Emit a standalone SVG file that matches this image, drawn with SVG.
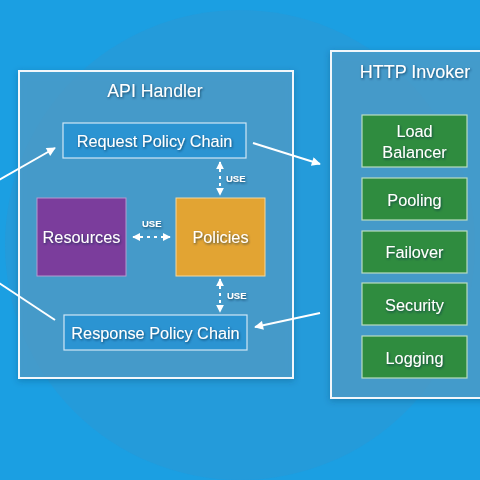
<svg xmlns="http://www.w3.org/2000/svg" width="480" height="480" viewBox="0 0 480 480">
<defs>
<filter id="ts" x="-20%" y="-40%" width="140%" height="180%">
<feDropShadow dx="0.8" dy="1.2" stdDeviation="0.8" flood-color="#0b2a44" flood-opacity="0.7"/>
</filter>
<filter id="bs" x="-10%" y="-10%" width="120%" height="120%">
<feDropShadow dx="0" dy="2" stdDeviation="3" flood-color="#0b3a5e" flood-opacity="0.35"/>
</filter>
<marker id="ah" viewBox="0 0 10 10" refX="9" refY="5" markerWidth="5" markerHeight="4.5" orient="auto-start-reverse" markerUnits="strokeWidth">
<path d="M0,0 L10,5 L0,10 Z" fill="#ffffff"/>
</marker>
<marker id="uh" viewBox="0 0 10 10" refX="9" refY="5" markerWidth="4" markerHeight="4" orient="auto-start-reverse" markerUnits="strokeWidth">
<path d="M0,0 L10,5 L0,10 Z" fill="#ffffff"/>
</marker>
</defs>
<style>
.panel{fill:#4f9fcc;fill-opacity:0.75;stroke:#f2f7fb;stroke-width:2}
.chain{fill:#2b94d2;stroke:#cfe6f5;stroke-width:1.2}
.green{fill:#2f8c3f;stroke:#b9dcc0;stroke-width:1.2}
.t{font-family:"Liberation Sans",Arial,sans-serif;fill:#ffffff;text-anchor:middle;filter:url(#ts)}
.use{font-family:"Liberation Sans",Arial,sans-serif;font-weight:bold;font-size:9.5px;fill:#ffffff;filter:url(#ts)}
.conn{stroke:#ffffff;stroke-width:2;fill:none}
.dash{stroke:#ffffff;stroke-width:2;fill:none;stroke-dasharray:3 4}
</style>
<rect width="480" height="480" fill="#1b9fe2"/>
<circle cx="240" cy="245" r="235" fill="#2b98d3" opacity="0.55"/>

<g id="api-handler">
<rect class="panel" x="19" y="71" width="274" height="307" filter="url(#bs)"/>
<text class="t" x="155" y="97" font-size="17.7">API Handler</text>
</g>
<g id="http-invoker">
<rect class="panel" x="331" y="51" width="160" height="347" filter="url(#bs)"/>
<text class="t" x="415" y="78" font-size="18">HTTP Invoker</text>
</g>

<g id="request-policy-chain">
<rect class="chain" x="63" y="123" width="183" height="35"/>
<text class="t" x="154.5" y="147" font-size="16.3">Request Policy Chain</text>
</g>
<g id="resources">
<rect x="37" y="198" width="89" height="78" fill="#7b3d9c" stroke="#b59ad0" stroke-width="1"/>
<text class="t" x="81.5" y="243" font-size="16.3">Resources</text>
</g>
<g id="policies">
<rect x="176" y="198" width="89" height="78" fill="#e2a433" stroke="#f3d8a0" stroke-width="1"/>
<text class="t" x="220.5" y="243" font-size="16.3">Policies</text>
</g>
<g id="response-policy-chain">
<rect class="chain" x="64" y="315" width="183" height="35"/>
<text class="t" x="155.5" y="339" font-size="16.3">Response Policy Chain</text>
</g>

<g id="load-balancer">
<rect class="green" x="362" y="115" width="105" height="52"/>
<text class="t" x="414.5" y="137" font-size="16.3">Load</text>
<text class="t" x="414.5" y="158" font-size="16.3">Balancer</text>
</g>
<g id="pooling">
<rect class="green" x="362" y="178" width="105" height="42"/>
<text class="t" x="414.5" y="206" font-size="16.3">Pooling</text>
</g>
<g id="failover">
<rect class="green" x="362" y="231" width="105" height="42"/>
<text class="t" x="414.5" y="258" font-size="16.3">Failover</text>
</g>
<g id="security">
<rect class="green" x="362" y="283" width="105" height="42"/>
<text class="t" x="414.5" y="311" font-size="16.3">Security</text>
</g>
<g id="logging">
<rect class="green" x="362" y="336" width="105" height="42"/>
<text class="t" x="414.5" y="364" font-size="16.3">Logging</text>
</g>

<g id="connectors">
<line class="conn" x1="-10" y1="185" x2="55" y2="148" marker-end="url(#ah)"/>
<line class="conn" x1="55" y1="320" x2="-10" y2="277"/>
<line class="conn" x1="253" y1="143" x2="320" y2="164" marker-end="url(#ah)"/>
<line class="conn" x1="320" y1="313" x2="255" y2="327" marker-end="url(#ah)"/>
<line class="dash" x1="220" y1="162" x2="220" y2="195" marker-start="url(#uh)" marker-end="url(#uh)"/>
<line class="dash" x1="220" y1="279" x2="220" y2="312" marker-start="url(#uh)" marker-end="url(#uh)"/>
<line class="dash" x1="133" y1="237" x2="170" y2="237" marker-start="url(#uh)" marker-end="url(#uh)"/>
<text class="use" x="226" y="182">USE</text>
<text class="use" x="227" y="299">USE</text>
<text class="use" x="142" y="227">USE</text>
</g>
</svg>
